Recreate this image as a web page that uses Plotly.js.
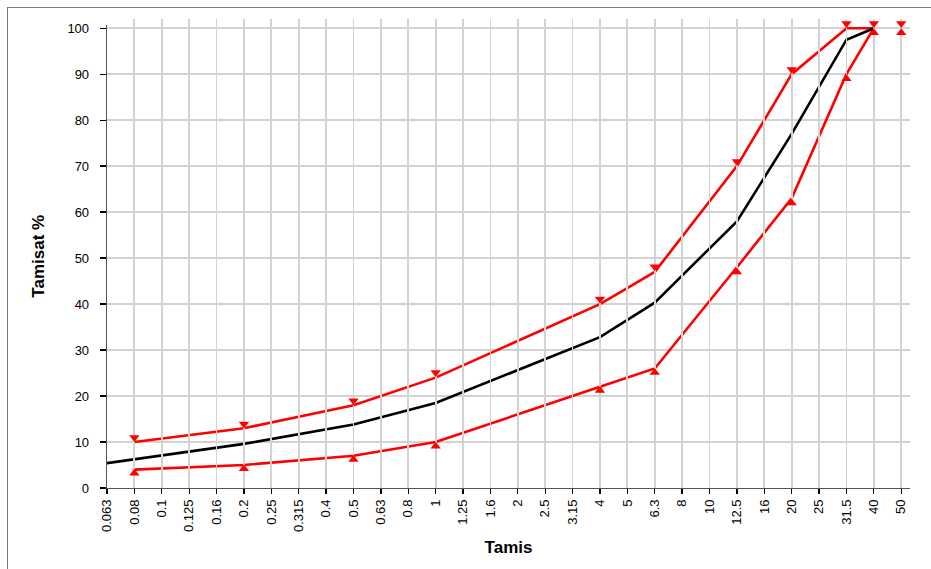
<!DOCTYPE html>
<html>
<head>
<meta charset="utf-8">
<script src="https://cdn.plot.ly/plotly-3.0.1.min.js"></script>
<style>
  html, body { margin: 0; padding: 0; background: #fff; }
  #wrap { position: relative; width: 931px; height: 569px; overflow: hidden; }
  #chart { position: absolute; left: 0; top: 0; width: 931px; height: 569px; }
  #frame { position: absolute; left: 7px; top: 7px; width: 960px; height: 600px;
           border: 1.5px solid #7a7a7a; pointer-events: none; }
</style>
</head>
<body>
<div id="wrap">
  <div id="chart"></div>
  <div id="frame"></div>
</div>
<script>
// Sieve sizes (category axis)
const sieves = ['0.063','0.08','0.1','0.125','0.16','0.2','0.25','0.315','0.4','0.5','0.63','0.8','1',
                '1.25','1.6','2','2.5','3.15','4','5','6.3','8','10','12.5','16','20','25','31.5','40','50'];

// Mean grading curve (black)
const meanX = ['0.063','0.2','0.5','1','4','6.3','12.5','20','31.5','40'];
const meanY = [5.4, 9.6, 13.8, 18.5, 32.8, 40.3, 58, 77, 97.5, 100];

// Upper limit line (red)
const upX = ['0.08','0.2','0.5','1','4','6.3','12.5','20','31.5','40'];
const upY = [10, 13, 18, 24, 40, 47, 70, 90, 100, 100];
// Upper limit markers (down triangles)
const upMX = ['0.08','0.2','0.5','1','4','6.3','12.5','20','31.5','40','50'];
const upMY = [11, 13.9, 19, 25.1, 41.1, 48.1, 71, 91, 101, 101, 101];

// Lower limit line (red)
const loX = ['0.08','0.2','0.5','1','4','6.3','12.5','20','31.5','40'];
const loY = [4, 5, 7, 10, 22, 26, 48, 63, 90, 100];
// Lower limit markers (up triangles)
const loMX = ['0.08','0.2','0.5','1','4','6.3','12.5','20','31.5','40','50'];
const loMY = [3.2, 4.2, 6.2, 9.1, 21.2, 25.1, 47, 62, 89, 99, 99];

const yTicks = [0,10,20,30,40,50,60,70,80,90,100];

// geometry
const H = 569, T = 19, B = 81;
const plotH = H - T - B;
const yMax2 = 102;
const pxPerUnit = plotH / yMax2;
const yMax1 = 100.8;
const dom1 = yMax1 * pxPerUnit / plotH;

const traces = [
  {x: upX, y: upY, type: 'scatter', mode: 'lines', line: {color: '#ff0000', width: 2.6}, hoverinfo: 'skip'},
  {x: loX, y: loY, type: 'scatter', mode: 'lines', line: {color: '#ff0000', width: 2.6}, hoverinfo: 'skip'},
  {x: meanX, y: meanY, type: 'scatter', mode: 'lines', line: {color: '#000000', width: 2.6}, hoverinfo: 'skip'},
  {x: upMX, y: upMY, yaxis: 'y2', type: 'scatter', mode: 'markers', cliponaxis: false,
   marker: {symbol: 'triangle-down', size: 9, color: '#ff0000'}},
  {x: loMX, y: loMY, yaxis: 'y2', type: 'scatter', mode: 'markers', cliponaxis: false,
   marker: {symbol: 'triangle-up', size: 9, color: '#ff0000'}}
];

const layout = {
  width: 931, height: 569,
  margin: {l: 107, r: 21, t: T, b: B},
  paper_bgcolor: 'rgba(0,0,0,0)', plot_bgcolor: 'rgba(0,0,0,0)',
  showlegend: false,
  font: {family: 'Liberation Sans, Arial, sans-serif', size: 13, color: '#000'},
  xaxis: {
    type: 'category', categoryorder: 'array', categoryarray: sieves,
    tickvals: sieves, ticktext: sieves,
    range: [0, 29.32], tickangle: -90,
    showgrid: true, gridcolor: '#d2d2d2', gridwidth: 1.8,
    showline: true, linecolor: '#555', linewidth: 1.3,
    ticks: 'outside', ticklen: 5, tickcolor: '#000', tickwidth: 1.3,
    tickfont: {size: 13, color: '#000'},
    zeroline: false, automargin: false, anchor: 'y',
    title: {text: '<b>Tamis</b>', font: {size: 17, color: '#000'}, standoff: 10}
  },
  yaxis: {
    domain: [0, dom1],
    range: [0, yMax1], tickvals: yTicks, ticktext: yTicks.map(String),
    showgrid: true, gridcolor: '#d2d2d2', gridwidth: 1.8,
    showline: true, linecolor: '#555', linewidth: 1.3,
    ticks: 'outside', ticklen: 6, tickcolor: '#000', tickwidth: 1.3,
    ticklabelstandoff: 8,
    tickfont: {size: 13, color: '#000'},
    zeroline: false, automargin: false,
    title: {text: '<b>Tamisat %</b>', font: {size: 17, color: '#000'}, standoff: 18}
  },
  yaxis2: {
    domain: [0, 1], range: [0, yMax2], anchor: 'x',
    visible: false, showgrid: false, zeroline: false, fixedrange: true
  }
};

Plotly.newPlot('chart', traces, layout, {staticPlot: true, displayModeBar: false});
</script>
</body>
</html>
